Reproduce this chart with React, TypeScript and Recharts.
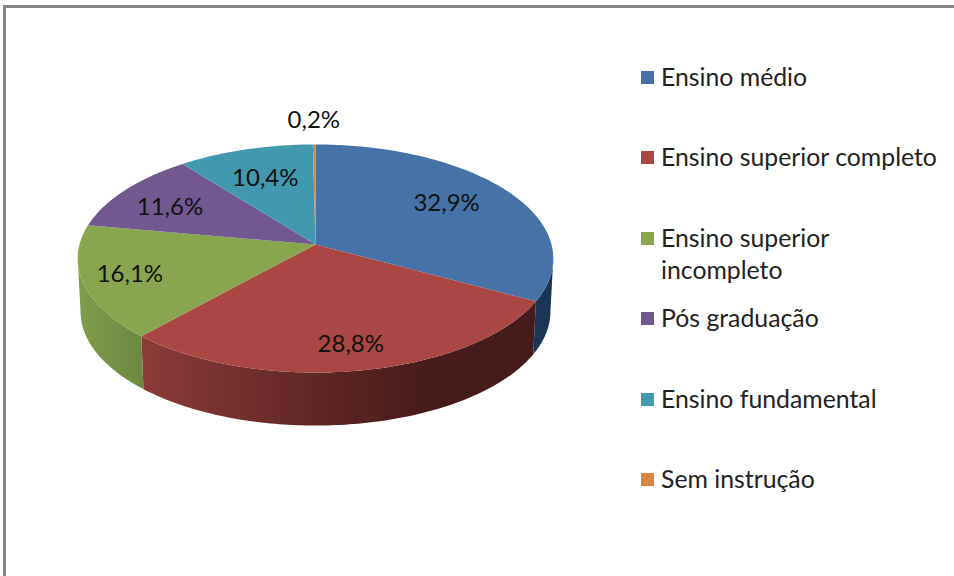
import React from "react";
import { PieChart, Pie, Legend } from "recharts";

const CATEGORIES = ["Ensino médio", "Ensino superior completo", "Ensino superior incompleto", "Pós graduação", "Ensino fundamental", "Sem instrução"];
const LEGEND_LINES = [["Ensino médio"], ["Ensino superior completo"], ["Ensino superior", "incompleto"], ["Pós graduação"], ["Ensino fundamental"], ["Sem instrução"]];
const VALUES = [32.9, 28.8, 16.1, 11.6, 10.4, 0.2];
const LABELS = ["32,9%", "28,8%", "16,1%", "11,6%", "10,4%", "0,2%"];
const COLORS = ["#4572A7", "#AA4643", "#89A54E", "#71588F", "#4198AF", "#DB843D"];
const WALL_STOPS = [
  [["0", "#1a3556"], ["1", "#1a3556"]],
  [["0", "#8c3b3a"], ["0.45", "#5f2625"], ["0.72", "#451c1b"], ["1", "#451c1b"]],
  [["0", "#809c4c"], ["1", "#6c883e"]],
  [["0", "#71588F"], ["1", "#71588F"]],
  [["0", "#4198AF"], ["1", "#4198AF"]],
  [["0", "#DB843D"], ["1", "#DB843D"]],
];
const LABEL_RADII = [0.71, 0.8, 0.8, 0.74, 0.69, 1.3];
const LABEL_TURN = [4, 0, -1.5, 1.5, 0, 0]; // degrees, counter-clockwise in Recharts' angle sense

const TILT = 0.1228; // perspective of the pie plane
const SQUASH = 0.476; // vertical / horizontal radius
const DEPTH = 53;
const FONT = "Lato, 'Open Sans', sans-serif";

const data = CATEGORIES.map((name, i) => ({ name, value: VALUES[i], fill: COLORS[i] }));

function project(cx: number, cy: number, R: number, theta: number, r = 1) {
  const u = Math.sin(theta) * r;
  const v = -Math.cos(theta) * r;
  const d = 1 - TILT * v;
  return { x: cx + (R * u) / d, y: cy + (R * SQUASH * v) / d };
}
const toTheta = (deg: number) => ((90 - deg) * Math.PI) / 180;

function Slice(props: any) {
  const { cx, cy, outerRadius: R, startAngle, endAngle, name } = props;
  const i = CATEGORIES.indexOf(name);
  const a = toTheta(startAngle);
  const b = toTheta(endAngle);
  const N = Math.max(4, Math.ceil((b - a) * 60));
  const pts: number[] = [];
  for (let k = 0; k <= N; k++) pts.push(a + ((b - a) * k) / N);
  const top = pts.map((t) => project(cx, cy, R, t));
  const topD = `M${cx},${cy} ` + top.map((p) => `L${p.x.toFixed(2)},${p.y.toFixed(2)}`).join(" ") + " Z";

  // the wall is visible only on the near part of the rim, from the right extreme to the left extreme
  const near0 = Math.PI - Math.acos(TILT);
  const near1 = Math.PI + Math.acos(TILT);
  const w0 = Math.max(a, near0);
  const w1 = Math.min(b, near1);
  const wall: { x: number; y: number }[] = [];
  if (w1 > w0) {
    for (let k = 0; k <= N; k++) wall.push(project(cx, cy, R, w0 + ((w1 - w0) * k) / N));
  }
  const lower = wall.map((p) => ({ x: cx + (p.x - cx) * 0.988, y: p.y + DEPTH }));
  const id = `wall-${i}`;
  const xs = [...wall, ...lower].map((p) => p.x);
  const wallD = wall.length
    ? "M" + [...wall, ...lower.reverse()].map((p) => `${p.x.toFixed(2)},${p.y.toFixed(2)}`).join(" L") + " Z"
    : "";
  return (
    <g>
      {wallD && (
        <>
          <defs>
            <linearGradient id={id} gradientUnits="userSpaceOnUse" x1={Math.min(...xs)} x2={Math.max(...xs)} y1={0} y2={0}>
              {WALL_STOPS[i].map(([o, c]) => (
                <stop key={o} offset={o} stopColor={c} />
              ))}
            </linearGradient>
          </defs>
          <path d={wallD} fill={`url(#${id})`} stroke="none" />
        </>
      )}
      <path d={topD} fill={COLORS[i]} stroke="none" />
    </g>
  );
}

function SliceLabel(props: any) {
  const { cx, cy, outerRadius: R, midAngle, name } = props;
  const i = CATEGORIES.indexOf(name);
  const p = project(cx, cy, R, toTheta(midAngle + LABEL_TURN[i]), LABEL_RADII[i]);
  return (
    <text x={p.x} y={p.y} textAnchor="middle" dominantBaseline="central" fontFamily={FONT} fontSize={24} fill="#111">
      {LABELS[i]}
    </text>
  );
}

function LegendBox() {
  return (
    <div style={{ fontFamily: FONT, fontSize: 24.8, lineHeight: "32px", color: "#222" }}>
      {CATEGORIES.map((c, i) => (
        <div key={c} style={{ position: "relative", paddingLeft: 21, height: 80.4, whiteSpace: "nowrap" }}>
          <span style={{ position: "absolute", left: 1, top: 10, width: 13, height: 13, background: COLORS[i] }} />
          {LEGEND_LINES[i].map((l) => (
            <div key={l}>{l}</div>
          ))}
        </div>
      ))}
    </div>
  );
}

export default function App() {
  return (
    <div style={{ position: "absolute", left: 0, top: 0, width: 954, height: 576, background: "#fff", overflow: "hidden" }}>
      <div style={{ position: "absolute", left: 3, top: 5, width: 951, height: 3, background: "#868686" }} />
      <div style={{ position: "absolute", left: 3, top: 5, width: 3, height: 571, background: "#868686" }} />
      <PieChart width={954} height={576} margin={{ top: 0, right: 0, bottom: 0, left: 0 }} style={{ position: "absolute", left: 0, top: 0 }}>
        <Pie
          data={data}
          dataKey="value"
          nameKey="name"
          cx={315.5}
          cy={244.5}
          innerRadius={0}
          outerRadius={236}
          startAngle={90}
          endAngle={-270}
          stroke="none"
          isAnimationActive={false}
          shape={Slice}
          label={SliceLabel}
          labelLine={false}
        />
        <Legend
          layout="vertical"
          align="right"
          verticalAlign="top"
          content={LegendBox}
          wrapperStyle={{ position: "absolute", left: 640, top: 61, right: "auto", width: 310 }}
        />
      </PieChart>
    </div>
  );
}
